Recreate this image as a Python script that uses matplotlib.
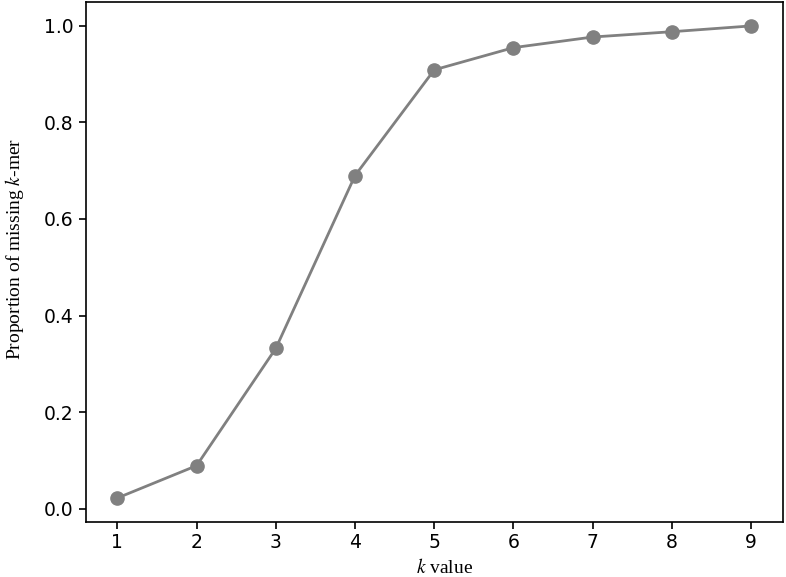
import numpy as np
import matplotlib.pyplot as plt

plt.rcParams['mathtext.fontset'] = 'stix'

# k values and proportion of missing k-mers
k_values = [1, 2, 3, 4, 5, 6, 7, 8, 9]
missing_prop = [0.022, 0.089, 0.332, 0.690, 0.909, 0.955, 0.977, 0.988, 1.0]

fig = plt.figure(figsize=(7.86, 5.77), dpi=100)
ax = fig.add_axes([0.109, 0.096, 0.887, 0.900])

ax.plot(k_values, missing_prop, '-o', color='#808080', linewidth=2.0, markersize=9.5)

ax.set_xticks(k_values)
ax.set_yticks([0.0, 0.2, 0.4, 0.6, 0.8, 1.0])
ax.tick_params(labelsize=13.5, length=5, width=1.2)
for s in ax.spines.values():
    s.set_linewidth(1.2)

ax.set_xlabel(r'$k$ value', fontsize=14, family='Liberation Serif')
ax.set_ylabel(r'Proportion of missing $k$-mer', fontsize=14, family='Liberation Serif')
ax.xaxis.set_label_coords(0.515, -0.07)
ax.yaxis.set_label_coords(-0.085, 0.525)

plt.savefig('out.png', dpi=100)
